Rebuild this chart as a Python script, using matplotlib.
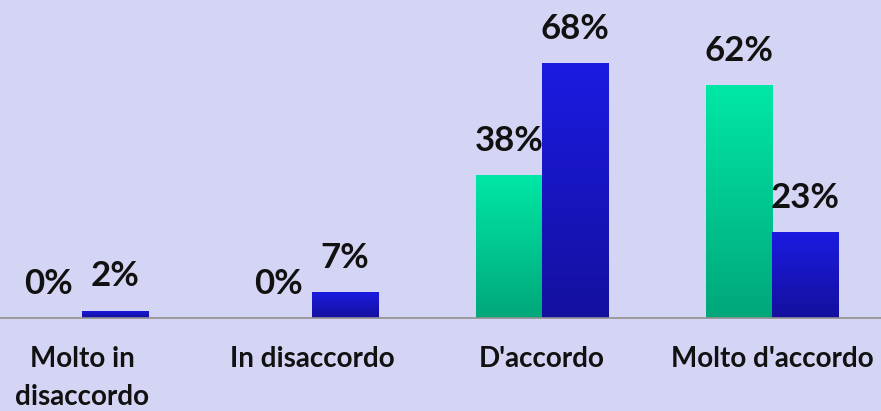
import numpy as np
import matplotlib.pyplot as plt
from matplotlib.colors import LinearSegmentedColormap

categories = ["Molto in\ndisaccordo", "In disaccordo", "D'accordo", "Molto d'accordo"]
serie_verde = [0, 0, 38, 62]
serie_blu = [2, 7, 68, 23]

BG = '#d4d4f4'
plt.rcParams['font.family'] = ['Lato', 'DejaVu Sans']

fig = plt.figure(figsize=(8.81, 4.11), dpi=100, facecolor=BG)
ax = fig.add_axes([0, 93 / 411, 1, 318 / 411])
ax.set_facecolor(BG)

x = np.arange(len(categories))
w = 0.287

cm_verde = LinearSegmentedColormap.from_list('v', ['#00a77a', '#00e8a6'])
cm_blu = LinearSegmentedColormap.from_list('b', ['#14109e', '#1b1be2'])
grad = np.linspace(0, 1, 256).reshape(-1, 1)


def barre_sfumate(xs, vals, cmap):
    bars = ax.bar(xs, vals, w, color='none', edgecolor='none')
    for b in bars:
        h = b.get_height()
        if h <= 0:
            continue
        x0 = b.get_x()
        im = ax.imshow(grad, cmap=cmap, aspect='auto', origin='lower',
                       extent=[x0, x0 + b.get_width(), 0, h], zorder=2)
        im.set_clip_path(b)
    return bars


b1 = barre_sfumate(x - w / 2, serie_verde, cm_verde)
b2 = barre_sfumate(x + w / 2, serie_blu, cm_blu)

for bars, vals in [(b1, serie_verde), (b2, serie_blu)]:
    for b, v in zip(bars, vals):
        ax.annotate(f"{v}%", (b.get_x() + b.get_width() / 2, v),
                    xytext=(0, 13), textcoords='offset points',
                    ha='center', va='bottom', fontsize=25, fontweight='bold',
                    color='#111111', zorder=5)

ax.set_xlim(-82 / 230, 799 / 230)
ax.set_ylim(0, 318 / 3.75)
ax.set_xticks(x)
ax.set_xticklabels(categories, fontsize=20, fontweight='bold', color='#111111',
                   linespacing=1.6)
ax.tick_params(axis='x', length=0, pad=20)
ax.set_yticks([])
for s in ['top', 'right', 'left']:
    ax.spines[s].set_visible(False)
ax.spines['bottom'].set_color('#909090')
ax.spines['bottom'].set_linewidth(1.2)

fig.savefig('out.png', dpi=100, facecolor=BG)
